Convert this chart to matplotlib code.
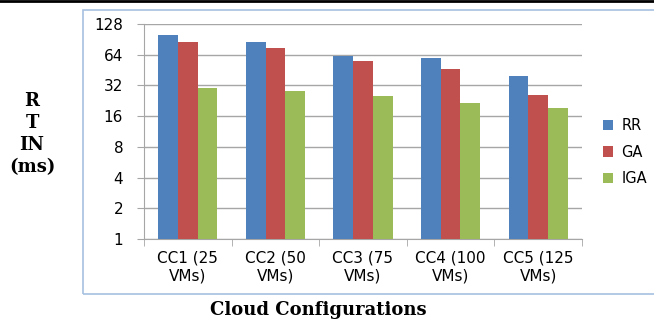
import matplotlib
matplotlib.use("Agg")
import matplotlib.pyplot as plt
import numpy as np
from matplotlib.patches import Rectangle
from matplotlib.lines import Line2D

categories = ["CC1 (25\nVMs)", "CC2 (50\nVMs)", "CC3 (75\nVMs)", "CC4 (100\nVMs)", "CC5 (125\nVMs)"]
series_names = ["RR", "GA", "IGA"]
rr = [98, 84, 61, 58, 38.5]
ga = [85, 73, 54, 45, 25]
iga = [29.5, 27.5, 24.3, 20.3, 18.3]
yticks = [1, 2, 4, 8, 16, 32, 64, 128]
colors = ["#4F81BD", "#C0504D", "#9BBB59"]

W, H = 654, 321
fig = plt.figure(figsize=(W / 100, H / 100), dpi=100)
fig.patch.set_facecolor("white")

# top black line
fig.add_artist(Line2D([0, 1], [1 - 1 / H, 1 - 1 / H], color="black", lw=2, transform=fig.transFigure))
# chart area border
fig.add_artist(Rectangle((83 / W, 1 - 294 / H), (W + 5 - 83) / W, (294 - 10) / H,
                         transform=fig.transFigure, fill=False, ec="#A7C1E0", lw=1.2))

ax = fig.add_axes([144 / W, 1 - 239 / H, (582 - 144) / W, (239 - 24) / H])
ax.set_yscale("log", base=2)
ax.set_ylim(1, 128)
x = np.arange(len(categories))
bw = 0.225
for i, (vals, name) in enumerate(zip([rr, ga, iga], series_names)):
    ax.bar(x + (i - 1) * bw, vals, width=bw, color=colors[i], label=name, bottom=1, zorder=3)
ax.set_xlim(-0.5, len(categories) - 0.5)
ax.set_yticks(yticks)
ax.set_yticklabels([str(v) for v in yticks])
ax.minorticks_off()
ax.grid(axis="y", color="#A6A6A6", lw=1, zorder=0)
for s in ["top", "right"]:
    ax.spines[s].set_visible(False)
ax.spines["left"].set_color("#A6A6A6")
ax.spines["bottom"].set_color("#A6A6A6")
ax.set_xticks(x)
ax.set_xticklabels(categories, fontsize=11, family="DejaVu Sans", linespacing=1.25)
ax.set_xticks(np.arange(-0.5, len(categories), 1), minor=True)
ax.tick_params(axis="x", which="major", length=0, pad=8)
ax.tick_params(axis="x", which="minor", length=5, color="#A6A6A6")
ax.tick_params(axis="y", length=5, color="#A6A6A6", labelsize=11, pad=10)
for lab in ax.get_yticklabels():
    lab.set_family("DejaVu Sans")

leg = fig.legend(loc="center left", bbox_to_anchor=(590 / W, 1 - 152 / H), frameon=False,
                 prop={"family": "DejaVu Sans", "size": 10.5}, handlelength=0.7, handleheight=0.7,
                 labelspacing=0.8, handletextpad=0.55)

fig.text(318 / W, 1 - 310 / H, "Cloud Configurations", ha="center", va="center",
         family="DejaVu Serif", fontweight="bold", fontsize=13)
fig.text(32 / W, 1 - 134 / H, "R\nT\nIN\n(ms)", ha="center", va="center",
         family="DejaVu Serif", fontweight="bold", fontsize=13, linespacing=1.3)

fig.savefig("out.png", dpi=100)
